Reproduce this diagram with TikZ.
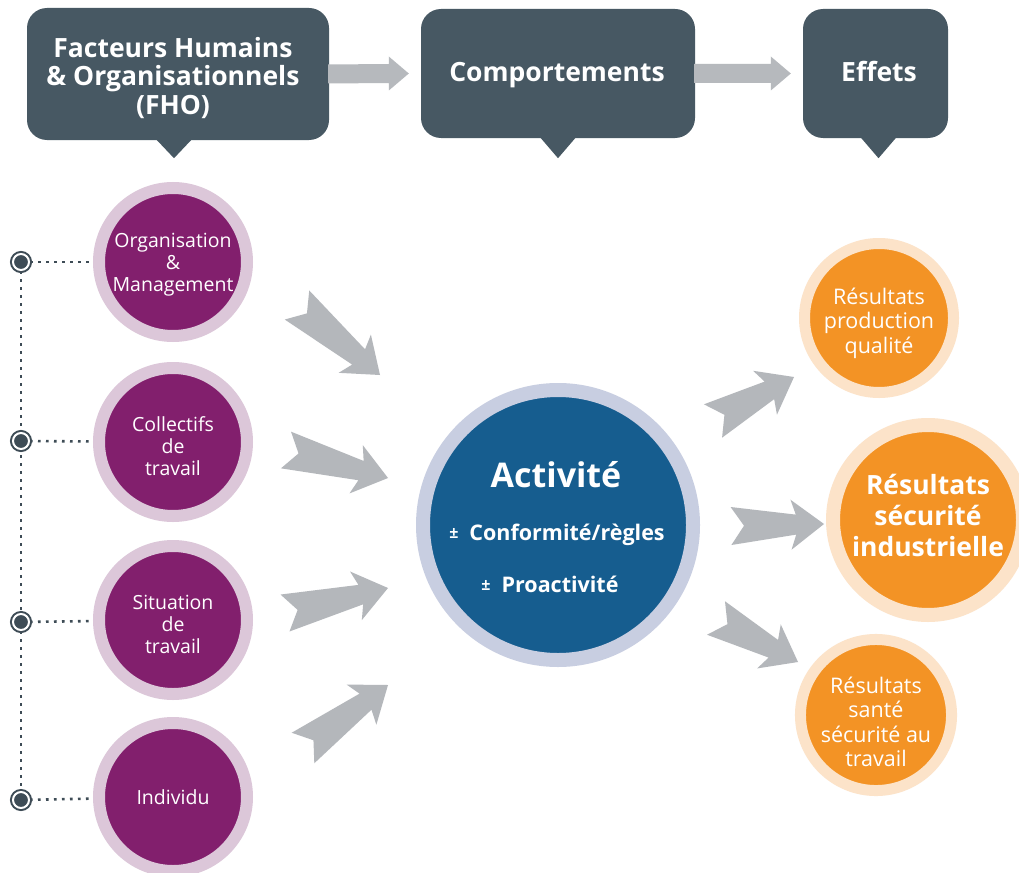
\documentclass[tikz,border=0pt]{standalone}
\usepackage{fontspec}
\setmainfont{Open Sans}
\usetikzlibrary{calc,backgrounds}
\definecolor{hdr}{HTML}{475863}
\definecolor{harrowc}{HTML}{B6B9BD}
\definecolor{bigarrowc}{HTML}{B4B7BB}
\definecolor{purpc}{HTML}{821F6D}
\definecolor{purpring}{HTML}{DCC7D9}
\definecolor{bluec}{HTML}{165D8F}
\definecolor{bluering}{HTML}{C8CEE1}
\definecolor{orngc}{HTML}{F39325}
\definecolor{orring}{HTML}{FCE3C9}
\definecolor{markc}{HTML}{3E4C56}
\newcommand\fatarrow[2]{%
\fill[bigarrow] ($(#1)!19pt!90:(#2)$) -- ($(#2)!28pt!(#1)!10pt!-90:(#1)$) -- ($(#2)!33pt!(#1)!25pt!-90:(#1)$) -- (#2) -- ($(#2)!33pt!(#1)!25pt!90:(#1)$) -- ($(#2)!28pt!(#1)!10pt!90:(#1)$) -- ($(#1)!19pt!-90:(#2)$) -- ($(#1)!13pt!(#2)$) -- cycle;}
\newcommand\hdrarrow[2]{%
\fill[harrow] ($(#1.east)+(-1,9.5)$) -- ($(#2.west)+(-32,9.5)$) -- ($(#2.west)+(-32,17)$) -- ($(#2.west)+(-12,0)$) -- ($(#2.west)+(-32,-17)$) -- ($(#2.west)+(-32,-9.5)$) -- ($(#1.east)+(-1,-9.5)$) -- cycle;}
\newcommand\pmsign{{\fontsize{16}{16}\selectfont\raisebox{2pt}{±}}\hspace{11pt}}
\begin{document}
\begin{tikzpicture}[x=1pt,y=-1pt,
  hdrbox/.style={fill=hdr, rounded corners=20pt, inner sep=0pt},
  hdrtxt/.style={text=white, font=\bfseries\fontsize{26.5}{28.5}\selectfont, align=center, inner sep=0pt},
  harrow/.style={fill=harrowc},
  bigarrow/.style={fill=bigarrowc},
  purp/.style={circle, fill=purpc, draw=purpring, line width=12pt, minimum size=148pt, inner sep=0pt, text=white, font=\fontsize{19.5}{22}\selectfont, align=center},
  bluecirc/.style={circle, fill=bluec, draw=bluering, line width=14pt, minimum size=270pt, inner sep=0pt},
  ctext/.style={text=white, font=\bfseries\fontsize{21.5}{24}\selectfont, inner sep=0pt},
  orsmall/.style={circle, fill=orngc, draw=orring, line width=11pt, minimum size=149pt, inner sep=0pt, text=white, font=\fontsize{21.5}{24.5}\selectfont, align=center},
  orbig/.style={circle, fill=orngc, draw=orring, line width=14pt, minimum size=190pt, inner sep=0pt, text=white, font=\bfseries\fontsize{26.5}{31}\selectfont, align=center},
  marker/.style={circle, fill=markc, draw=markc, double=white, double distance=2pt, line width=2pt, minimum size=16pt, inner sep=0pt},
  dotl/.style={draw=markc, line width=2.6pt, dash pattern=on 2.6pt off 5.4pt}
]
\clip (0,0) rectangle (1019,872);
% headers
\node[hdrbox, minimum width=302pt, minimum height=132pt] (fho) at (178,74) {};
\node[hdrbox, minimum width=274pt, minimum height=129pt] (comp) at (558,73.5) {};
\node[hdrbox, minimum width=145pt, minimum height=129pt] (eff) at (875.5,73.5) {};
\fill[hdr] ($(fho.south)+(-22,-1)$) -- ($(fho.south)+(14,-1)$) -- ($(fho.south)+(-4,18)$) -- cycle;
\fill[hdr] ($(comp.south)+(-18,-1)$) -- ($(comp.south)+(18,-1)$) -- ($(comp.south)+(0,20)$) -- cycle;
\fill[hdr] ($(eff.south)+(-15,-1)$) -- ($(eff.south)+(21,-1)$) -- ($(eff.south)+(3,20)$) -- cycle;
\node[hdrtxt] (fhot) at (173,78) {Facteurs Humains\\\& Organisationnels\\(FHO)};
\node[hdrtxt, anchor=base] (compt) at (557,82) {Comportements};
\node[hdrtxt, anchor=base] (efft) at (879,82) {Effets};
\hdrarrow{fho}{comp}
\hdrarrow{comp}{eff}
% left markers
\node[marker] (m1) at (21,262) {};
\node[marker] (m2) at (21,441) {};
\node[marker] (m3) at (21,622) {};
\node[marker] (m4) at (21,800) {};
% purple circles
\node[purp] (org) at (173,262) {\rule{0pt}{20pt}Organisation\\\&\\Management};
\node[purp] (coll) at (173,442) {\rule{0pt}{24pt}Collectifs\\de\\travail};
\node[purp] (sit) at (173,620) {\rule{0pt}{23pt}Situation\\de\\travail};
\node[purp] (ind) at (173,797) {Individu};
\begin{pgfonlayer}{background}
\fill[white] (0,0) rectangle (1019,872);
\draw[dotl] (m1) -- (m4);
\draw[dotl] (m1) -- (org);
\draw[dotl] (m2) -- (coll);
\draw[dotl] (m3) -- (sit);
\draw[dotl] (m4) -- (ind);
\end{pgfonlayer}
% center
\node[bluecirc] (act) at (558,525) {};
\node[text=white, font=\bfseries\fontsize{34}{40}\selectfont, inner sep=0pt, anchor=base] (actt) at (556,487) {Activité};
\node[ctext, anchor=base] (conf) at (557,540) {\pmsign Conformité/règles};
\node[ctext, anchor=base] (pro) at (550,592) {\pmsign Proactivité};
% orange circles
\node[orsmall] (prod) at (879,318) {\rule{0pt}{27pt}Résultats\\production\\qualité};
\node[orbig] (secind) at (928,520) {Résultats\\sécurité\\industrielle\rule[-9pt]{0pt}{9pt}};
\node[orsmall] (sst) at (876,715) {\rule{0pt}{30pt}Résultats\\santé\\sécurité au\\travail};
% grey arrows
\coordinate (a1t) at (297,305); \coordinate (a1h) at (380,375);
\coordinate (a2t) at (286,450); \coordinate (a2h) at (388,478);
\coordinate (a3t) at (285,613); \coordinate (a3h) at (388,588);
\coordinate (a4t) at (303,748); \coordinate (a4h) at (388,685);
\coordinate (b1t) at (713,421); \coordinate (b1h) at (794,377);
\coordinate (b2t) at (731,526); \coordinate (b2h) at (824,524);
\coordinate (b3t) at (716,618); \coordinate (b3h) at (798,662);
\fatarrow{a1t}{a1h}
\fatarrow{a2t}{a2h}
\fatarrow{a3t}{a3h}
\fatarrow{a4t}{a4h}
\fatarrow{b1t}{b1h}
\fatarrow{b2t}{b2h}
\fatarrow{b3t}{b3h}
\end{tikzpicture}
\end{document}
